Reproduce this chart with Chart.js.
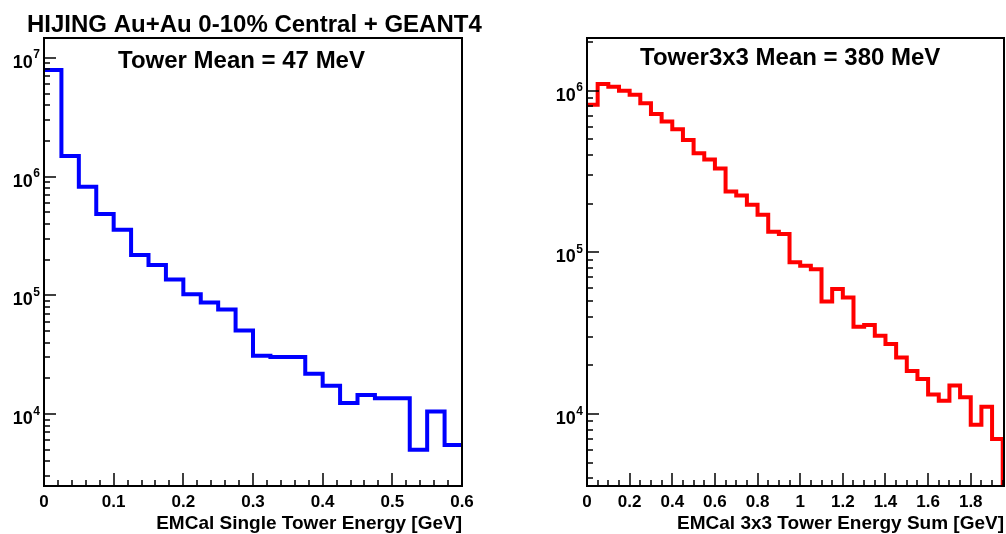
<!DOCTYPE html>
<html>
<head>
<meta charset="utf-8">
<script src="https://cdn.jsdelivr.net/npm/chart.js@4.4.0/dist/chart.umd.min.js"></script>
<style>
    html, body { margin: 0; padding: 0; background: #fff; }
    #wrap { position: relative; width: 1006px; height: 534px; overflow: hidden; }
    .pane { position: absolute; top: 0; width: 503px; height: 534px; }
</style>
</head>
<body>
<div id="wrap">
    <div class="pane" style="left:0"><canvas id="towerChart" width="503" height="534"></canvas></div>
    <div class="pane" style="left:503px"><canvas id="sumChart" width="503" height="534"></canvas></div>
</div>
<script>
// Single tower energy: 24 bins of 25 MeV, 0 - 0.6 GeV
const towerBinWidth = 0.025;
const towerCounts = [
    7.9e6, 1.49e6, 8.2e5, 4.85e5, 3.56e5, 2.19e5, 1.8e5, 1.36e5,
    1.02e5, 8.7e4, 7.6e4, 5.07e4, 3.1e4, 3.03e4, 3.03e4, 2.19e4,
    1.73e4, 1.24e4, 1.45e4, 1.36e4, 1.36e4, 5.0e3, 1.05e4, 5.5e3
];

// 3x3 tower sum: 39 bins of 50 MeV, 0 - 1.95 GeV
const sumBinWidth = 0.05;
const sumCounts = [
    8.19e5, 1.1e6, 1.06e6, 1.0e6, 9.45e5, 8.36e5, 7.18e5, 6.46e5,
    5.77e5, 4.96e5, 4.1e5, 3.76e5, 3.3e5, 2.38e5, 2.25e5, 1.97e5,
    1.71e5, 1.34e5, 1.3e5, 8.7e4, 8.26e4, 7.88e4, 4.97e4, 5.93e4,
    5.26e4, 3.47e4, 3.56e4, 3.05e4, 2.71e4, 2.24e4, 1.85e4, 1.65e4,
    1.32e4, 1.21e4, 1.5e4, 1.27e4, 8.6e3, 1.11e4, 7.0e3
];
// next bin is below the axis, the line drops out of the frame
const sumOverflow = 1000;

// axis ticks
const towerXTicks = [0, 0.1, 0.2, 0.3, 0.4, 0.5, 0.6];
const towerXLabels = ['0', '0.1', '0.2', '0.3', '0.4', '0.5', '0.6'];
const sumXTicks = [0, 0.2, 0.4, 0.6, 0.8, 1.0, 1.2, 1.4, 1.6, 1.8];
const sumXLabels = ['0', '0.2', '0.4', '0.6', '0.8', '1', '1.2', '1.4', '1.6', '1.8'];
const towerDecades = [4, 5, 6, 7];
const sumDecades = [4, 5, 6];

const FONT = '"Liberation Sans", Arial, Helvetica, sans-serif';

function histPoints(counts, width, tail) {
    const pts = counts.map((c, i) => ({x: +(i * width).toFixed(4), y: c}));
    const end = +(counts.length * width).toFixed(4);
    pts.push({x: end, y: tail === undefined ? counts[counts.length - 1] : tail});
    return pts;
}

// ROOT style frame: ticks inside, labels drawn by hand
const rootFrame = {
    id: 'rootFrame',
    afterDatasetsDraw(chart, args, o) {
        const {ctx, chartArea: a, scales: {x, y}} = chart;
        ctx.save();
        ctx.strokeStyle = '#000';
        ctx.fillStyle = '#000';

        ctx.lineWidth = 1.5;
        ctx.beginPath();
        // y: log ticks
        for (let d = o.decades[0] - 1; d <= o.decades[o.decades.length - 1]; d++) {
            for (let m = 1; m <= 9; m++) {
                const v = m * Math.pow(10, d);
                if (v < y.min || v > y.max) continue;
                const py = Math.round(y.getPixelForValue(v));
                const len = m === 1 ? 12 : 6;
                ctx.moveTo(a.left, py);
                ctx.lineTo(a.left + len, py);
            }
        }
        // x: major + minor
        const nMinor = Math.round((x.max - x.min) / o.xMinor + 1e-6);
        for (let i = 0; i <= nMinor; i++) {
            const v = x.min + i * o.xMinor;
            if (v > x.max + 1e-9) break;
            const px = Math.round(x.getPixelForValue(v));
            ctx.moveTo(px, a.bottom);
            ctx.lineTo(px, a.bottom - 6);
        }
        o.xTicks.forEach(v => {
            const px = Math.round(x.getPixelForValue(v));
            ctx.moveTo(px, a.bottom);
            ctx.lineTo(px, a.bottom - 13);
        });
        ctx.stroke();

        ctx.lineWidth = 2;
        ctx.strokeRect(Math.round(a.left), Math.round(a.top),
            Math.round(a.right - a.left), Math.round(a.bottom - a.top));

        // x labels
        ctx.font = 'bold 17px ' + FONT;
        ctx.textAlign = 'center';
        ctx.textBaseline = 'alphabetic';
        o.xTicks.forEach((v, i) => {
            ctx.fillText(o.xLabels[i], x.getPixelForValue(v), a.bottom + 21);
        });

        // y labels 10^n
        o.decades.forEach(d => {
            const py = y.getPixelForValue(Math.pow(10, d));
            ctx.textAlign = 'right';
            ctx.font = 'bold 12px ' + FONT;
            const ex = String(d);
            const exR = a.left - 4;
            ctx.fillText(ex, exR, py + 0.5);
            const exW = ctx.measureText(ex).width;
            ctx.font = 'bold 18px ' + FONT;
            ctx.fillText('10', exR - exW - 0.5, py + 10);
        });

        // texts
        (o.texts || []).forEach(t => {
            ctx.font = 'bold ' + t.size + 'px ' + FONT;
            ctx.textAlign = t.align || 'left';
            ctx.fillText(t.text, t.x, t.y);
        });
        ctx.restore();
    }
};

function makeChart(id, cfg) {
    return new Chart(document.getElementById(id), {
        type: 'line',
        data: {
            datasets: [{
                data: cfg.points,
                borderColor: cfg.color,
                borderWidth: 4,
                stepped: true,
                pointRadius: 0,
                fill: false,
                borderJoinStyle: 'miter',
                borderCapStyle: 'butt'
            }]
        },
        options: {
            responsive: false,
            animation: false,
            devicePixelRatio: 1,
            layout: {padding: cfg.padding},
            plugins: {
                legend: {display: false},
                tooltip: {enabled: false},
                rootFrame: cfg.frame
            },
            scales: {
                x: {type: 'linear', display: false, min: 0, max: cfg.xMax},
                y: {type: 'logarithmic', display: false, min: cfg.yMin, max: cfg.yMax}
            }
        },
        plugins: [rootFrame]
    });
}

makeChart('towerChart', {
    points: histPoints(towerCounts, towerBinWidth),
    color: '#0000ff',
    padding: {left: 44, right: 41, top: 38, bottom: 48},
    xMax: 0.6,
    yMin: 2480,
    yMax: 1.47e7,
    frame: {
        decades: towerDecades,
        xTicks: towerXTicks,
        xLabels: towerXLabels,
        xMinor: 0.02,
        texts: [
            {text: 'HIJING Au+Au 0-10% Central + GEANT4', x: 27, y: 32, size: 24},
            {text: 'Tower Mean = 47 MeV', x: 118, y: 68, size: 24},
            {text: 'EMCal Single Tower Energy [GeV]', x: 462, y: 529, size: 19, align: 'right'}
        ]
    }
});

makeChart('sumChart', {
    points: histPoints(sumCounts, sumBinWidth, sumOverflow),
    color: '#ff0000',
    padding: {left: 84, right: 2, top: 38, bottom: 48},
    xMax: 1.956,
    yMin: 3590,
    yMax: 2.12e6,
    frame: {
        decades: sumDecades,
        xTicks: sumXTicks,
        xLabels: sumXLabels,
        xMinor: 0.05,
        texts: [
            {text: 'Tower3x3 Mean = 380 MeV', x: 137, y: 65, size: 24},
            {text: 'EMCal 3x3 Tower Energy Sum [GeV]', x: 501, y: 529, size: 19, align: 'right'}
        ]
    }
});
</script>
</body>
</html>
